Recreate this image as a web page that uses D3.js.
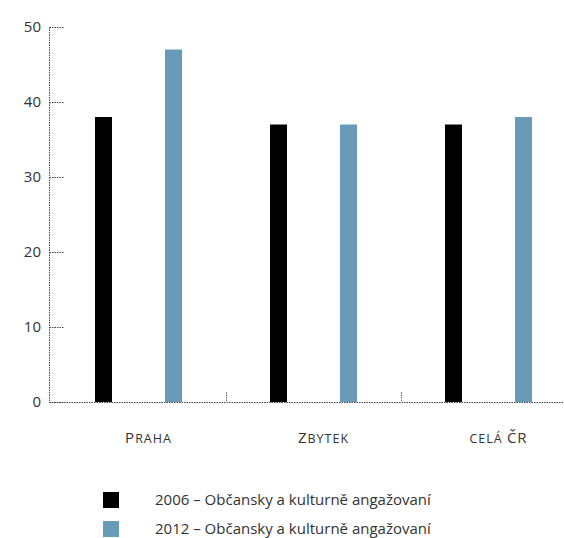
<!DOCTYPE html>
<html><head><meta charset="utf-8">
<script src="https://cdn.jsdelivr.net/npm/d3@7"></script>
<style>
body{margin:0;background:#fff;}
text{font-family:"Open Sans",sans-serif;fill:#333;}
</style></head>
<body><svg id="c" width="564" height="538"></svg>
<script>
const categories = ["Praha", "Zbytek", "celá ČR"];
const series = ["2006 – Občansky a kulturně angažovaní", "2012 – Občansky a kulturně angažovaní"];
const values2006 = [38, 37, 37];
const values2012 = [47, 37, 38];
const yTicks = [0, 10, 20, 30, 40, 50];
const colors = ["#000000", "#679bb8"];

const svg = d3.select("#c");
const x0 = 51, x1 = 576, yTop = 27, yBot = 402;
const x = d3.scaleBand().domain(categories).range([x0, x1]);
const y = d3.scaleLinear().domain([0, 50]).range([yBot, yTop]);
const barW = 17, barOff = 35;

const dash = "1.5,1";
svg.append("line").attr("x1", 49.5).attr("x2", 49.5).attr("y1", yTop).attr("y2", yBot + 0.5)
  .attr("stroke", "#444").attr("stroke-dasharray", dash);
svg.append("line").attr("x1", 49).attr("x2", 564).attr("y1", yBot + 0.5).attr("y2", yBot + 0.5)
  .attr("stroke", "#444").attr("stroke-dasharray", dash).attr("stroke-width", 1.2);

const yg = svg.append("g");
yTicks.forEach(t => {
  yg.append("line").attr("x1", 49.5).attr("x2", 64).attr("y1", Math.round(y(t)) + 0.5).attr("y2", Math.round(y(t)) + 0.5)
    .attr("stroke", "#444").attr("stroke-dasharray", dash);
  yg.append("text").attr("x", 41).attr("y", y(t)).attr("dy", "0.32em").attr("text-anchor", "end")
    .attr("font-size", 15).attr("fill", "#3a3a3a").text(t);
});

categories.slice(1).forEach(c => {
  svg.append("line").attr("x1", x(c) + 0.5).attr("x2", x(c) + 0.5).attr("y1", yBot - 10).attr("y2", yBot)
    .attr("stroke", "#666").attr("stroke-dasharray", "1.5,1");
});

const data = [values2006, values2012];
data.forEach((vals, si) => {
  svg.append("g").selectAll("rect").data(categories).join("rect")
    .attr("x", (d) => x(d) + x.bandwidth() / 2 + (si === 0 ? -barOff - barW / 2 : barOff - barW / 2))
    .attr("width", barW)
    .attr("y", (d, i) => y(vals[i]))
    .attr("height", (d, i) => yBot - y(vals[i]))
    .attr("fill", colors[si]);
});

categories.forEach(c => {
  const t = svg.append("text")
    .attr("x", x(c) + x.bandwidth() / 2 + 10)
    .attr("y", 443)
    .attr("text-anchor", "middle")
    .attr("letter-spacing", "1");
  for (const ch of c) {
    const isUpper = ch !== ch.toLowerCase();
    t.append("tspan").attr("font-size", isUpper ? 15 : 12.5).text(ch.toUpperCase());
  }
});

series.forEach((s, i) => {
  svg.append("rect").attr("x", 103).attr("y", 492 + i * 29).attr("width", 16).attr("height", 16).attr("fill", colors[i]);
  svg.append("text").attr("x", 155).attr("y", 505 + i * 29).attr("font-size", 15).text(s);
});
</script></body></html>
